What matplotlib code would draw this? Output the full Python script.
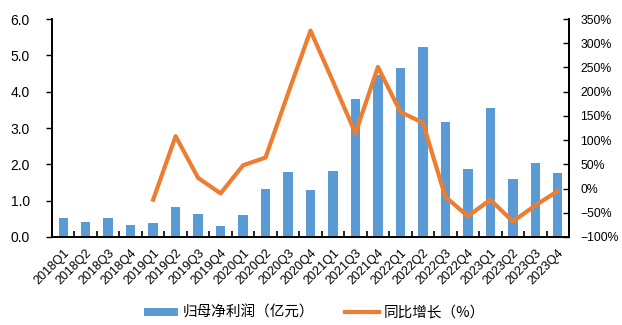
import matplotlib
matplotlib.use("Agg")
import matplotlib.pyplot as plt
import numpy as np
from matplotlib.ticker import FuncFormatter, MultipleLocator

plt.rcParams['font.family'] = ['Liberation Sans', 'Noto Sans CJK SC', 'DejaVu Sans']

quarters = ["2018Q1", "2018Q2", "2018Q3", "2018Q4",
            "2019Q1", "2019Q2", "2019Q3", "2019Q4",
            "2020Q1", "2020Q2", "2020Q3", "2020Q4",
            "2021Q1", "2021Q3", "2021Q4",
            "2022Q1", "2022Q2", "2022Q3", "2022Q4",
            "2023Q1", "2023Q2", "2023Q3", "2023Q4"]
profit = [0.51, 0.41, 0.51, 0.34,
          0.39, 0.83, 0.62, 0.29,
          0.60, 1.33, 1.79, 1.29,
          1.82, 3.79, 4.46,
          4.66, 5.24, 3.16, 1.88,
          3.56, 1.59, 2.03, 1.77]
growth = [np.nan, np.nan, np.nan, np.nan,
          -23, 108, 22, -10,
          48, 64, 196, 326,
          221, 114, 251,
          158, 136, -17, -57,
          -23, -68, -35, -5]

bar_label = "归母净利润（亿元）"
line_label = "同比增长（%）"

fig = plt.figure(figsize=(6.22, 3.25), dpi=100)
ax = fig.add_axes([0.0836, 0.2708, 0.8312, 0.6707])
x = np.arange(len(quarters))
bars = ax.bar(x, profit, width=0.42, color="#5B9BD5", label=bar_label, zorder=2)
ax.set_xlim(-0.5, len(quarters) - 0.5)
ax.set_ylim(0, 6)
ax.yaxis.set_major_locator(MultipleLocator(1))
ax.yaxis.set_major_formatter(FuncFormatter(lambda v, p: f"{v:.1f}"))
ax.set_xticks(x)
ax.set_xticklabels(quarters, rotation=45, ha="right", va="top", rotation_mode="anchor", fontsize=9)
ax.set_xticks(np.arange(-0.5, len(quarters)), minor=True)
ax.tick_params(axis="x", which="major", length=0, pad=7)
ax.tick_params(axis="x", which="minor", direction="in", length=4, width=1.2)
ax.tick_params(axis="y", labelsize=10, length=4, width=1.0, direction="out", pad=12)
ax.spines["top"].set_visible(False)
for s in ["left", "bottom", "right"]:
    ax.spines[s].set_linewidth(1.4)

ax2 = ax.twinx()
line, = ax2.plot(x, growth, color="#ED7D31", linewidth=3.0, label=line_label, zorder=3)
ax2.set_ylim(-100, 350)
ax2.yaxis.set_major_locator(MultipleLocator(50))
ax2.yaxis.set_major_formatter(FuncFormatter(lambda v, p: f"{int(round(v))}%".replace("-", "−")))
ax2.tick_params(axis="y", labelsize=8.8, length=4, width=1.0, direction="in", pad=8)
ax2.spines["top"].set_visible(False)
ax2.spines["right"].set_linewidth(1.4)
ax2.spines["left"].set_visible(False)
ax2.spines["bottom"].set_visible(False)

leg = fig.legend([bars, line], [bar_label, line_label], loc="center",
                 bbox_to_anchor=(0.506, 0.037), ncol=2, frameon=False,
                 prop={"family": ["Noto Sans CJK SC"], "size": 10.5},
                 handlelength=2.3, handleheight=0.45, columnspacing=2.1, handletextpad=0.35,
                 borderpad=0.1)

fig.savefig("out.png", dpi=100)
